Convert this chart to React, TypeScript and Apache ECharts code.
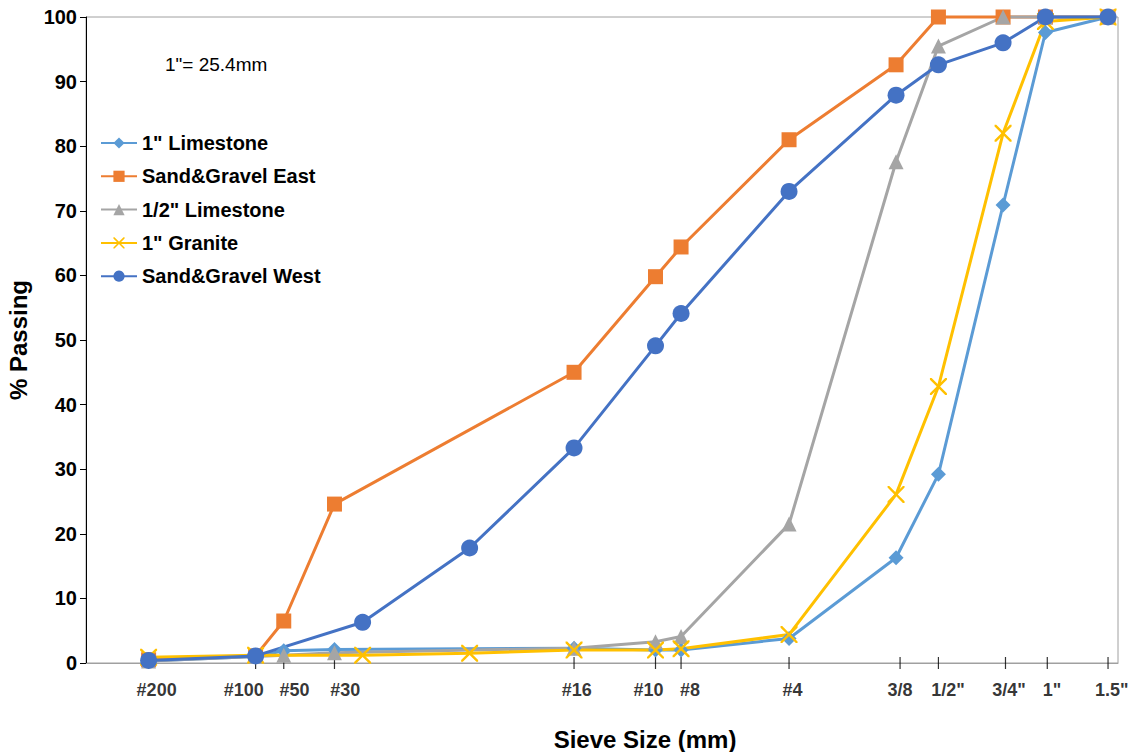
import React, { useEffect, useRef } from "react";
import * as echarts from "echarts";

const FONT = "'Liberation Sans', Arial, sans-serif";

// Sieve tick marks (mm positions on the axis)
const sieveTickPositions = [0.075, 0.15, 0.18, 0.25, 1.18, 2.0, 2.36, 4.75, 9.75, 12.5, 19.3, 25.3, 37.5];
// Sieve labels and the positions (mm) where their text is centred
const sieveLabels = ["#200", "#100", "#50", "#30", "#16", "#10", "#8", "#4", "3/8", '1/2"', '3/4"', '1"', '1.5"'];
const sieveLabelPositions = [0.079, 0.139, 0.193, 0.268, 1.2, 1.91, 2.5, 4.86, 9.75, 13.3, 19.75, 26.1, 38.4];

// Series (x in mm, y in % passing)
const limestone1X = [0.075, 0.15, 0.18, 0.25, 1.18, 2.0, 2.36, 4.75, 9.5, 12.5, 19, 25, 37.5];
const limestone1Y = [0.3, 1.0, 1.9, 2.1, 2.3, 2.0, 2.0, 3.8, 16.3, 29.2, 70.9, 97.6, 100];

const eastX = [0.075, 0.15, 0.18, 0.25, 1.18, 2.0, 2.36, 4.75, 9.5, 12.5, 19, 25, 37.5];
const eastY = [0.5, 1.1, 6.5, 24.6, 45.0, 59.8, 64.4, 81.0, 92.6, 100, 100, 100, 100];

const limestoneHalfX = [0.075, 0.15, 0.18, 0.25, 1.18, 2.0, 2.36, 4.75, 9.5, 12.5, 19, 25, 37.5];
const limestoneHalfY = [0.3, 1.0, 1.2, 1.6, 2.3, 3.3, 4.1, 21.5, 77.6, 95.5, 100, 100, 100];

const graniteX = [0.075, 0.15, 0.3, 0.6, 1.18, 2.0, 2.36, 4.75, 9.5, 12.5, 19, 25, 37.5];
const graniteY = [0.9, 1.2, 1.2, 1.5, 2.0, 2.0, 2.2, 4.4, 26.1, 42.8, 82.0, 99.3, 100];

const westX = [0.075, 0.15, 0.3, 0.6, 1.18, 2.0, 2.36, 4.75, 9.5, 12.5, 19, 25, 37.5];
const westY = [0.4, 1.1, 6.3, 17.8, 33.3, 49.1, 54.1, 73.0, 87.9, 92.6, 96.0, 100, 100];

const X_MIN_MM = 0.05;
const X_MAX_MM = 40;

const X_SYMBOL =
  "path://M0,0L1,0L5,4L9,0L10,0L10,1L6,5L10,9L10,10L9,10L5,6L1,10L0,10L0,9L4,5L0,1Z";

const lg = (v: number) => Math.log10(v);
const zip = (xs: number[], ys: number[]) => xs.map((x, i) => [lg(x), ys[i]]);

export default function App() {
  const ref = useRef<HTMLDivElement>(null);

  useEffect(() => {
    document.body.style.margin = "0";
    if (!ref.current) return;
    const chart = echarts.init(ref.current, undefined, { renderer: "svg" });

    const mk = (name: string, color: string, xs: number[], ys: number[], symbol: string, size: number) => ({
      name,
      type: "line",
      data: zip(xs, ys),
      symbol,
      symbolSize: size,
      lineStyle: { color, width: 3 },
      itemStyle: { color },
      clip: false,
    });

    chart.setOption({
      animation: false,
      backgroundColor: "#fff",
      textStyle: { fontFamily: FONT },
      grid: {
        left: 86,
        right: 13,
        top: 17,
        bottom: 89,
        containLabel: false,
        outerBoundsMode: "none",
        show: true,
        borderColor: "#A0A0A0",
        borderWidth: 1,
      },
      legend: {
        orient: "vertical",
        left: 100,
        top: 133,
        padding: 0,
        itemWidth: 36,
        itemHeight: 14,
        itemGap: 13.3,
        data: ['1" Limestone', "Sand&Gravel East", '1/2" Limestone', '1" Granite', "Sand&Gravel West"],
        textStyle: { fontFamily: FONT, fontSize: 20, fontWeight: "bold", color: "#000", padding: [0, 0, 0, 0] },
      },
      xAxis: {
        type: "value",
        min: lg(X_MIN_MM),
        max: lg(X_MAX_MM),
        axisLine: { show: true, onZero: false, lineStyle: { color: "#A0A0A0", width: 1 } },
        axisTick: { show: false },
        axisLabel: { show: false },
        splitLine: { show: false },
      },
      yAxis: {
        type: "value",
        min: 0,
        max: 100,
        interval: 10,
        name: "% Passing",
        nameLocation: "middle",
        nameGap: 56,
        nameTextStyle: { fontFamily: FONT, fontSize: 24, fontWeight: "bold", color: "#000" },
        axisLine: { show: true, onZero: false, lineStyle: { color: "#000", width: 1 } },
        axisTick: { show: true, length: 6, lineStyle: { color: "#000" } },
        axisLabel: {
          fontFamily: FONT,
          fontSize: 20,
          fontWeight: "bold",
          color: "#000",
          margin: 9,
        },
        splitLine: { show: false },
      },
      graphic: [
        {
          type: "text",
          left: 165,
          top: 55,
          style: { text: '1"= 25.4mm', font: `19px ${FONT}`, fill: "#000" },
        },
        {
          type: "text",
          x: 645,
          y: 739,
          style: {
            text: "Sieve Size (mm)",
            font: `bold 24px ${FONT}`,
            fill: "#000",
            align: "center",
            verticalAlign: "middle",
          },
        },
      ],
      series: [
        {
          name: "sieveTicks",
          type: "scatter",
          silent: true,
          clip: false,
          data: sieveTickPositions.map((p) => [lg(p), 0]),
          symbol: "rect",
          symbolSize: [1.2, 12],
          itemStyle: { color: "#000" },
          z: 1,
        },
        {
          name: "sieveLabels",
          type: "scatter",
          silent: true,
          clip: false,
          data: sieveLabelPositions.map((p, i) => ({ value: [lg(p), 0], name: sieveLabels[i] })),
          symbol: "rect",
          symbolSize: 0,
          itemStyle: { color: "transparent" },
          label: {
            show: true,
            position: "bottom",
            distance: 18,
            formatter: (p: any) => p.name,
            fontFamily: FONT,
            fontSize: 18,
            fontWeight: "bold",
            color: "#000",
          },
          z: 1,
        },
        mk('1" Limestone', "#5B9BD5", limestone1X, limestone1Y, "diamond", 15),
        mk("Sand&Gravel East", "#ED7D31", eastX, eastY, "rect", 15),
        mk('1/2" Limestone', "#A5A5A5", limestoneHalfX, limestoneHalfY, "triangle", 15),
        mk('1" Granite', "#FFC000", graniteX, graniteY, X_SYMBOL, 17),
        mk("Sand&Gravel West", "#4472C4", westX, westY, "circle", 17),
      ],
    });

    return () => chart.dispose();
  }, []);

  return <div ref={ref} style={{ width: 1131, height: 752 }} />;
}
